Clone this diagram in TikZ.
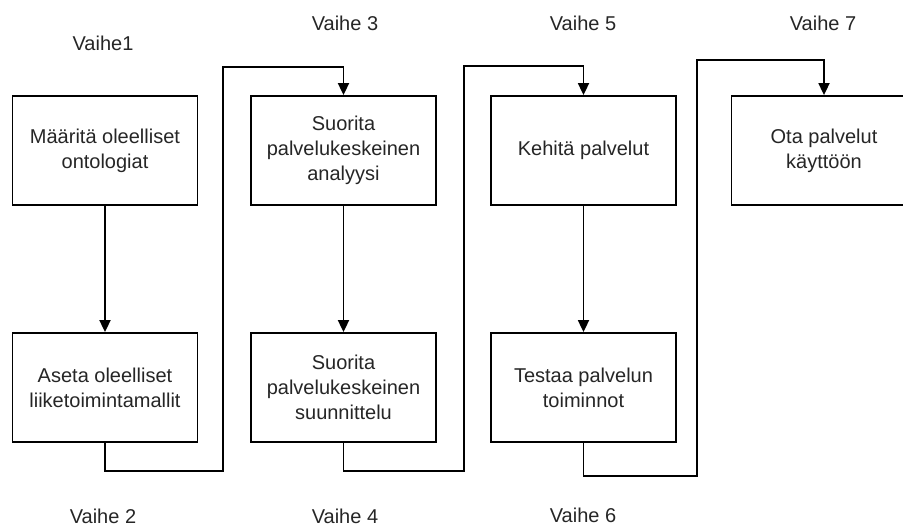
\documentclass[tikz,border=0pt]{standalone}
\usepackage{fontspec}
\setmainfont{Liberation Sans}
\usetikzlibrary{arrows.meta}
\begin{document}
\begin{tikzpicture}[x=1pt,y=-1pt,
  line width=1.8pt,
  stepbox/.style={draw, minimum width=185pt, minimum height=109pt, inner sep=0pt,
    align=center, text=black!85, font=\fontsize{20}{25}\selectfont},
  phase/.style={text=black!85, font=\fontsize{20}{24}\selectfont, inner sep=0pt},
  flow/.style={-{Triangle[length=12pt,width=11pt]}, line join=miter}]
\clip (0,0) rectangle (903,526);
\fill[white] (0,0) rectangle (903,526);

% process boxes
\node[stepbox] (b1) at (105,150.5) {Määritä oleelliset\\ontologiat};
\node[stepbox] (b2) at (105,387.5) {Aseta oleelliset\\liiketoimintamallit};
\node[stepbox] (b3) at (343.5,150.5) {Suorita\\palvelukeskeinen\\analyysi};
\node[stepbox] (b4) at (343.5,387.5) {Suorita\\palvelukeskeinen\\suunnittelu};
\node[stepbox] (b5) at (583.5,150.5) {Kehitä palvelut};
\node[stepbox] (b6) at (583.5,387.5) {Testaa palvelun\\toiminnot};
\node[stepbox] (b7) at (824,150.5) {Ota palvelut\\käyttöön};

% phase labels
\node[phase] (v1) at (103,43) {Vaihe1};
\node[phase] (v2) at (103,516) {Vaihe 2};
\node[phase] (v3) at (345,23) {Vaihe 3};
\node[phase] (v4) at (345,516) {Vaihe 4};
\node[phase] (v5) at (583,23) {Vaihe 5};
\node[phase] (v6) at (583,515) {Vaihe 6};
\node[phase] (v7) at (823,23) {Vaihe 7};

% routing points of the connectors
\coordinate (p2) at (223,471);
\coordinate (q3) at (343.5,67);
\coordinate (p4) at (464,471);
\coordinate (q5) at (583.5,66);
\coordinate (p6) at (697,476);
\coordinate (q7) at (824,60);

% connectors
\draw[flow] (b1.south) -- (b2.north);
\draw[flow] (b2.south) |- (p2) |- (q3) -- (b3.north);
\draw[flow] (b3.south) -- (b4.north);
\draw[flow] (b4.south) |- (p4) |- (q5) -- (b5.north);
\draw[flow] (b5.south) -- (b6.north);
\draw[flow] (b6.south) |- (p6) |- (q7) -- (b7.north);
\end{tikzpicture}
\end{document}
